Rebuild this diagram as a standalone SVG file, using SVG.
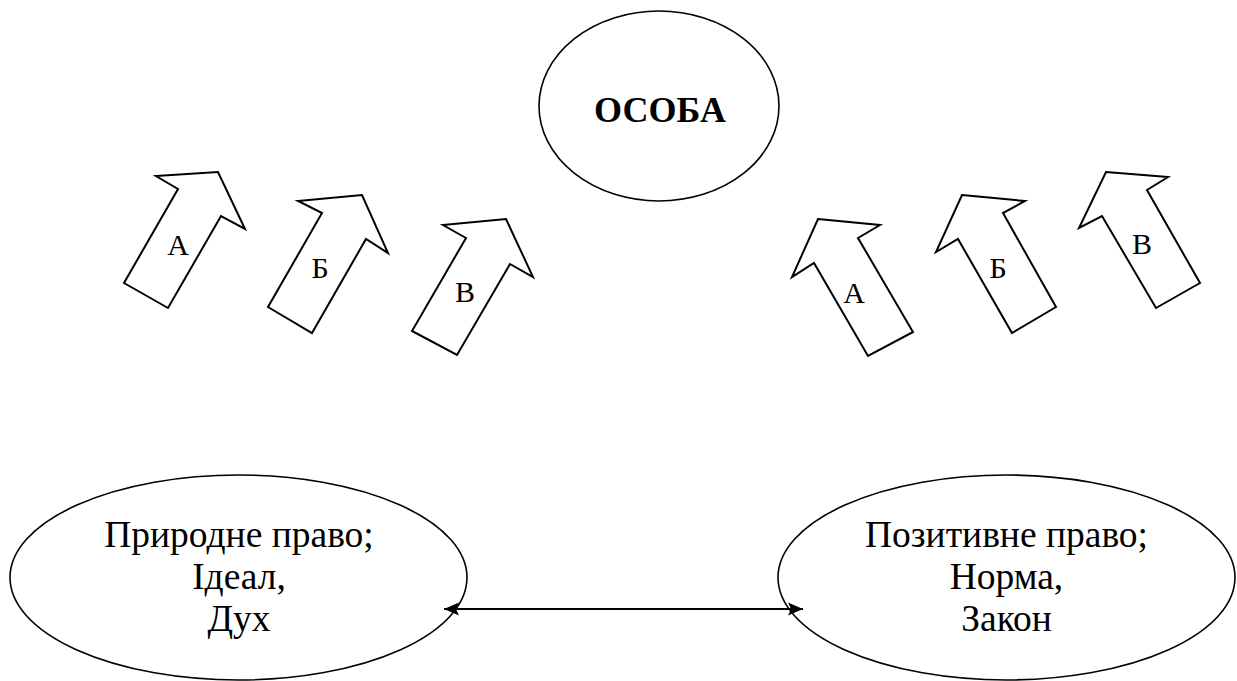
<svg xmlns="http://www.w3.org/2000/svg" width="1237" height="681" viewBox="0 0 1237 681">
<style>
.shape{fill:#fff;stroke:#000;stroke-width:1.6}
.arr{fill:#fff;stroke:#000;stroke-width:2;stroke-linejoin:miter}
.t{font-family:"Liberation Serif","Times New Roman",serif;font-size:37.5px;fill:#000;text-anchor:middle}
.b{font-weight:bold;font-size:36px}
.lbl{font-family:"Liberation Serif","Times New Roman",serif;font-size:30px;fill:#000;text-anchor:middle}
.conn{stroke:#000;stroke-width:2.2;fill:none}
</style>
<defs>
<marker id="ah" markerUnits="userSpaceOnUse" markerWidth="18" markerHeight="16" refX="16" refY="7" orient="auto-start-reverse" viewBox="0 0 18 14">
<path d="M16,7 L1,0.5 L4,7 L1,13.5 Z" fill="#000"/>
</marker>
</defs>
<rect width="1237" height="681" fill="#fff"/>
<g id="osoba">
<ellipse class="shape" cx="659" cy="106" rx="120" ry="95"/>
<text class="t b" x="660" y="122">ОСОБА</text>
</g>
<g id="natural-law">
<ellipse class="shape" cx="238.5" cy="577.5" rx="228.5" ry="102.5"/>
<text class="t" x="239" y="547">Природне право;</text>
<text class="t" x="239" y="589">Ідеал,</text>
<text class="t" x="239" y="631">Дух</text>
</g>
<g id="positive-law">
<ellipse class="shape" cx="1006.5" cy="577.5" rx="228.5" ry="102.5"/>
<text class="t" x="1006.5" y="547">Позитивне право;</text>
<text class="t" x="1006.5" y="589">Норма,</text>
<text class="t" x="1006.5" y="631">Закон</text>
</g>
<g id="arrow-left-a">
<polygon class="arr" points="156,176 218,172 245,229 221,216 168,308 124,283 178,189"/>
<text class="lbl" x="178" y="255">А</text>
</g>
<g id="arrow-left-b">
<polygon class="arr" points="298,201 362,195 388,253 366,239 312,333 268,307 322,213"/>
<text class="lbl" x="320" y="278">Б</text>
</g>
<g id="arrow-left-v">
<polygon class="arr" points="443,225 506,219 533,277 510,264 457,355 412,331 466,238"/>
<text class="lbl" x="465" y="302">В</text>
</g>
<g id="arrow-right-a">
<polygon class="arr" points="818,219 880,225 858,238 913,332 868,356 814,263 792,277"/>
<text class="lbl" x="854" y="303">А</text>
</g>
<g id="arrow-right-b">
<polygon class="arr" points="962,195 1025,201 1003,213 1056,307 1012,333 958,239 936,252"/>
<text class="lbl" x="998" y="278">Б</text>
</g>
<g id="arrow-right-v">
<polygon class="arr" points="1106,172 1168,177 1147,190 1200,283 1156,308 1102,216 1079,228"/>
<text class="lbl" x="1142" y="254">В</text>
</g>
<g id="connectors">
<line class="conn" x1="444" y1="609" x2="803" y2="609" marker-start="url(#ah)" marker-end="url(#ah)"/>
</g>
</svg>
